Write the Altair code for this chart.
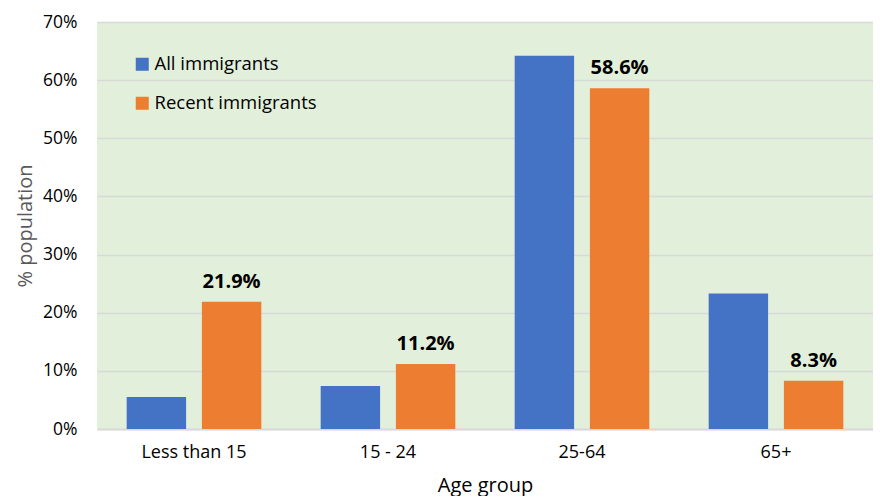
import altair as alt
import pandas as pd

groups = ["Less than 15", "15 - 24", "25-64", "65+"]
series = ["All immigrants", "Recent immigrants"]
all_imm = [5.5, 7.4, 64.2, 23.3]
recent_imm = [21.9, 11.2, 58.6, 8.3]
colors = ["#4472C4", "#ED7D31"]

rows = []
for g, a, r in zip(groups, all_imm, recent_imm):
    rows.append({"group": g, "series": series[0], "value": a})
    rows.append({"group": g, "series": series[1], "value": r})
df = pd.DataFrame(rows)
lab = df[df["series"] == series[1]].copy()
lab["label"] = lab["value"].map(lambda v: f"{v:.1f}%")

FONT = "Open Sans"

x = alt.X("group:N", sort=groups, title="Age group",
          scale=alt.Scale(paddingInner=0.306, paddingOuter=0.153),
          axis=alt.Axis(labelAngle=0, labelFontSize=18, labelColor="#000000",
                        labelPadding=14, titleFontSize=20, titleFontWeight="normal",
                        titleColor="#000000", titlePadding=14, ticks=False,
                        domainColor="#d9d9d9", domainWidth=2, labelFont=FONT, titleFont=FONT))
xo = alt.XOffset("series:N", sort=series, scale=alt.Scale(paddingInner=0.21))
y = alt.Y("value:Q", title="% population",
          scale=alt.Scale(domain=[0, 70], nice=False),
          axis=alt.Axis(values=[0, 10, 20, 30, 40, 50, 60, 70],
                        labelExpr="datum.value + '%'", labelFontSize=17.5,
                        labelColor="#000000", labelPadding=20, ticks=False, domain=False,
                        gridColor="#d9d9d9", gridWidth=1.5,
                        titleFontSize=20, titleFontWeight="normal", titleColor="#595959",
                        titlePadding=7, labelFont=FONT, titleFont=FONT))

bars = alt.Chart(df).mark_bar().encode(
    x=x, xOffset=xo, y=y,
    color=alt.Color("series:N", sort=series,
                    scale=alt.Scale(domain=series, range=colors),
                    legend=alt.Legend(title=None, orient="none", legendX=36, legendY=33,
                                      symbolType="square", symbolSize=169,
                                      symbolStrokeWidth=0, labelFontSize=18.5,
                                      labelFont=FONT, labelColor="#000000", labelLimit=400,
                                      rowPadding=20, labelOffset=3)),
)

texts = alt.Chart(lab).mark_text(fontSize=20, fontWeight="bold", baseline="bottom",
                                 dy=-10, font=FONT, color="#000000").encode(
    x=alt.X("group:N", sort=groups),
    xOffset=alt.XOffset("series:N", sort=series),
    y="value:Q",
    text="label:N",
)

chart = alt.layer(bars, texts).properties(
    width=776, height=407,
    autosize=alt.AutoSizeParams(type="none"),
    padding={"left": 89, "top": 14, "right": 0, "bottom": 67},
).configure_view(fill="#E2EFDA", stroke=None)

chart.save("out.html", embed_options={"renderer": "svg", "actions": False})
